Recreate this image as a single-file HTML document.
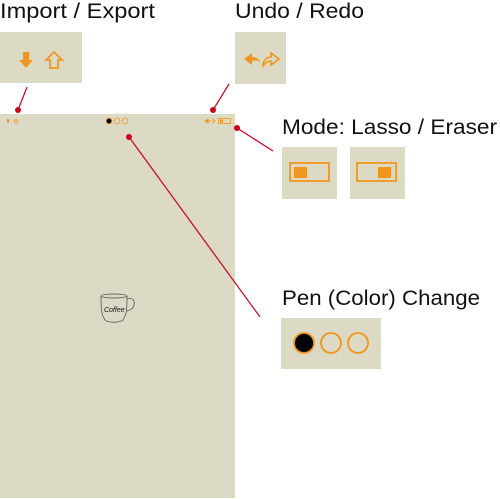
<!DOCTYPE html>
<html><head><meta charset="utf-8"><style>
html,body{margin:0;padding:0;background:#fff;width:500px;height:499px;overflow:hidden}
svg{display:block}
text{font-family:"Liberation Sans",sans-serif;fill:#111}
</style></head><body>
<svg width="500" height="499" viewBox="0 0 500 499">
<g>
<text x="0" y="18" font-size="21" textLength="155" lengthAdjust="spacingAndGlyphs">Import / Export</text>
<rect x="0" y="32" width="82" height="51" fill="#dcd9c4"/>
<path d="M23 52h6v8h4l-7 8-7-8h4z" fill="#f0961e"/>
<path d="M54 52l8 8h-4v8h-8v-8h-4z" fill="none" stroke="#f0961e" stroke-width="1.8"/>
</g>
<g>
<text x="235" y="18" font-size="21" textLength="129" lengthAdjust="spacingAndGlyphs">Undo / Redo</text>
<rect x="235" y="32" width="51" height="52" fill="#dcd9c4"/>
<path d="M244 59l8-6v4c4 0 7 2 9 6-3-3-6-3-9-2v4z" fill="#f0961e"/>
<path d="M279 59l-8-6v4c-5 0-8 4-8 9 3-4 5-5 8-5v4z" fill="none" stroke="#f0961e" stroke-width="1.6"/>
</g>
<g>
<rect x="0" y="114" width="235" height="384" fill="#dcd9c4"/>
<rect x="7" y="119" width="2" height="4" fill="#f0961e"/>
<path d="M16 119l2 2h-1v2h-2v-2h-1z" fill="none" stroke="#f0961e" stroke-width="0.7"/>
<circle cx="109" cy="121" r="2.8" fill="#000" stroke="#f0961e" stroke-width="0.8"/>
<circle cx="117" cy="121" r="2.8" fill="none" stroke="#f0961e" stroke-width="0.8"/>
<circle cx="125" cy="121" r="2.8" fill="none" stroke="#f0961e" stroke-width="0.8"/>
<path d="M205 121l3-2v4z M208 121h3" fill="#f0961e" stroke="#f0961e" stroke-width="1"/>
<path d="M215 121l-2-2v4z" fill="none" stroke="#f0961e" stroke-width="0.7"/>
<rect x="218.5" y="118.5" width="12" height="5" fill="none" stroke="#f0961e" stroke-width="0.8"/>
<rect x="220" y="119.5" width="3" height="3" fill="#f0961e"/>
<g fill="none" stroke="#444" stroke-width="0.7">
<ellipse cx="114" cy="296" rx="13" ry="2"/>
<path d="M101 296c0 12 0 18 4 24 4 3 14 3 18 0 4-6 4-12 4-24"/>
<path d="M127 299c6-2 8 2 7 6-1 4-4 5-7 6"/>
<text x="104" y="312" font-size="7" font-style="italic" stroke="none" fill="#333" font-family="Liberation Serif">Coffee</text>
</g>
</g>
<g>
<text x="282" y="134" font-size="21" textLength="215" lengthAdjust="spacingAndGlyphs">Mode: Lasso / Eraser</text>
<rect x="282" y="147" width="55" height="52" fill="#dcd9c4"/>
<rect x="290" y="163" width="39" height="18" fill="none" stroke="#f0961e" stroke-width="1.8"/>
<rect x="294" y="167" width="13" height="11" fill="#f0961e"/>
<rect x="350" y="147" width="55" height="52" fill="#dcd9c4"/>
<rect x="357" y="163" width="39" height="18" fill="none" stroke="#f0961e" stroke-width="1.8"/>
<rect x="378" y="167" width="13" height="11" fill="#f0961e"/>
</g>
<g>
<text x="282" y="305" font-size="21" textLength="198" lengthAdjust="spacingAndGlyphs">Pen (Color) Change</text>
<rect x="281" y="318" width="100" height="51" fill="#dcd9c4"/>
<circle cx="304" cy="343" r="10" fill="#000" stroke="#f0961e" stroke-width="1.8"/>
<circle cx="331" cy="343" r="10" fill="none" stroke="#f0961e" stroke-width="1.8"/>
<circle cx="358" cy="343" r="10" fill="none" stroke="#f0961e" stroke-width="1.8"/>
</g>
<g stroke="#d0021b" stroke-width="1.2" fill="#d0021b">
<line x1="27" y1="87" x2="18" y2="110"/><circle cx="18" cy="110" r="3" stroke="none"/>
<line x1="229" y1="84" x2="213" y2="110"/><circle cx="213" cy="110" r="3" stroke="none"/>
<line x1="237" y1="128" x2="273" y2="151"/><circle cx="237" cy="128" r="3" stroke="none"/>
<line x1="129" y1="137" x2="260" y2="317"/><circle cx="129" cy="137" r="3" stroke="none"/>
</g>
</svg>
</body></html>
